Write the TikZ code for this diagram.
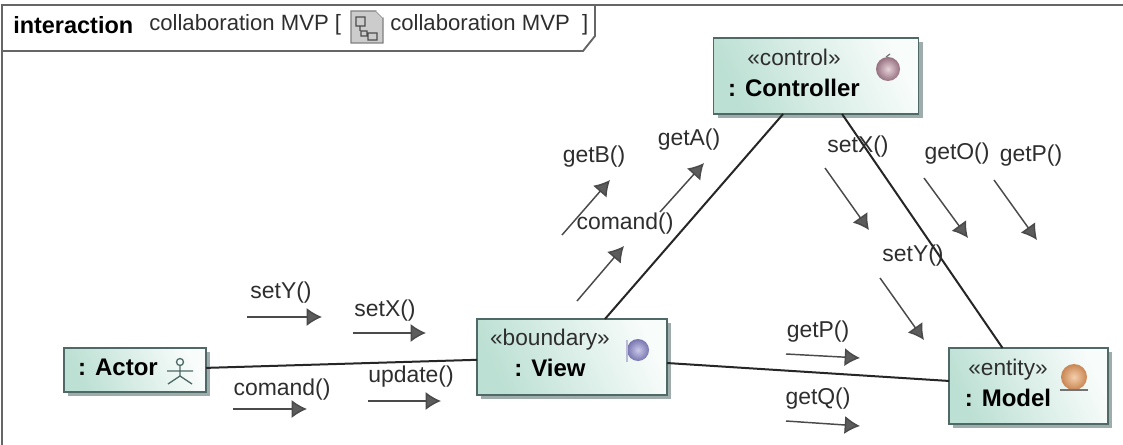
\documentclass[tikz,border=0pt]{standalone}
\usepackage{fontspec}
\setmainfont{Liberation Sans}
\usetikzlibrary{shadows,arrows.meta}
\definecolor{boxgreen}{HTML}{BCE0D3}
\definecolor{boxwhite}{HTML}{F8FCFB}
\definecolor{boxline}{HTML}{4F6A66}
\definecolor{inktext}{HTML}{2E2E2E}
\definecolor{msgline}{HTML}{4A4A4A}
\definecolor{controlin}{HTML}{E6D3DA}
\definecolor{controlout}{HTML}{96707F}
\definecolor{viewin}{HTML}{CBC9E8}
\definecolor{viewout}{HTML}{7775B0}
\definecolor{modelin}{HTML}{F4CFAE}
\definecolor{modelout}{HTML}{C98652}
\newcommand{\boxname}[1]{{\color{black}\bfseries\fontsize{18}{23}\selectfont #1}}
\newcommand{\boxkind}[1]{{\color{inktext}#1}}
\tikzset{
    classbox/.style={draw=boxline, line width=1.2pt, inner sep=0pt, outer sep=0pt, left color=boxgreen, right color=boxwhite, shading angle=115, drop shadow={shadow xshift=3.2pt, shadow yshift=-3.2pt, fill=boxline!55!white, opacity=1}},
    boxtext/.style={align=center, inner sep=0pt, text=black, font=\fontsize{17}{23}\selectfont},
    titletext/.style={inner sep=0pt, text=inktext, font=\fontsize{16.6}{19}\selectfont},
    msgtext/.style={inner sep=0pt, yshift=-1.2pt, text=inktext, font=\fontsize{17.2}{19}\selectfont},
    msg/.style={draw=msgline, line width=1.1pt, -{Latex[length=11.5pt,width=13.5pt,fill=msgline!90!white]}}, 
    link/.style={draw=black!85, line width=1.5pt},
    frameline/.style={draw=black!60, line width=1.4pt}
}
\begin{document}
\begin{tikzpicture}[x=0.75pt,y=-0.75pt]
    \useasboundingbox (0,0) rectangle (1123,445);
    \fill[white] (0,0) rectangle (1123,445);
    \draw[frameline] (2,445) -- (2,5) -- (1123,5);
    \draw[frameline] (2,51) -- (583,51) -- (595,36) -- (595,5);
    \node[anchor=west, inner sep=0pt, text=black, font=\bfseries\fontsize{17.6}{19}\selectfont] (frametitle) at (13,25) {interaction};
    \node[anchor=west, titletext] (framename) at (149,25) {collaboration MVP [};
    \node[anchor=west, titletext] (framediagram) at (390,25) {collaboration MVP\ \ ]};
    \draw[draw=black!50, fill=black!20, line width=0.9pt] (351,11) -- (376,11) -- (383,18) -- (383,43) -- (351,43) -- cycle;
    \fill[white] (376,11) -- (383,11) -- (383,18) -- cycle;
    \draw[draw=black!70, line width=1pt] (356,17) rectangle (365,26) (361,31) rectangle (367,36) (368,33) rectangle (377,40) (360,26) -- (360,31) (367,34) -- (368,35);

    \node[classbox, minimum width=153.75pt, minimum height=57pt] (controller) at (816,76) {};
    \node[classbox, minimum width=106.5pt, minimum height=33pt] (actor) at (135,370) {};
    \node[classbox, minimum width=142.5pt, minimum height=57pt] (view) at (572,357) {};
    \node[classbox, minimum width=119.25pt, minimum height=57pt] (model) at (1028.5,386) {};

    \draw[link] (actor) -- (view);
    \draw[link] (view) -- (model);
    \draw[link] (view) -- (controller);
    \draw[link] (controller) -- (model);

    \node[boxtext] (controllertext) at (794,73) {\boxkind{«control»}\\\boxname{: Controller}};
    \node[boxtext] (actortext) at (118,367) {\boxname{: Actor}};
    \node[boxtext] (viewtext) at (550,353) {\boxkind{«boundary»}\\\boxname{: View}};
    \node[boxtext] (modeltext) at (1008,383) {\boxkind{«entity»}\\\boxname{: Model}};

    \shade[inner color=controlin, outer color=controlout] (888,69) circle (12);
    \draw[draw=black!55, line width=0.9pt] (886,57) -- (890,54);
    \shade[inner color=viewin, outer color=viewout] (638,350) circle (11);
    \draw[draw=viewout!50!white, line width=1.4pt] (627,340) -- (627,362);
    \shade[inner color=modelin, outer color=modelout] (1074,377) circle (13);
    \draw[draw=black!55, line width=1pt] (1060,390) -- (1088,390);
    \draw[draw=boxline, line width=1pt] (180,362) circle (3.5) (180,365.5) -- (180,376) (167,371) -- (193,371) (168,384) -- (180,376) -- (192,384);

    \coordinate (setYa) at (247,317); \coordinate (setYb) at (322,317);
    \draw[msg] (setYa) -- (setYb);
    \node[msgtext] (setYtext) at (281,291) {setY()};
    \coordinate (setXa) at (353,333); \coordinate (setXb) at (426,333);
    \draw[msg] (setXa) -- (setXb);
    \node[msgtext] (setXtext) at (385,309) {setX()};
    \coordinate (comanda) at (233,409); \coordinate (comandb) at (307,409);
    \draw[msg] (comanda) -- (comandb);
    \node[msgtext] (comandtext) at (282,388) {comand()};
    \coordinate (updatea) at (368,401); \coordinate (updateb) at (441,401);
    \draw[msg] (updatea) -- (updateb);
    \node[msgtext] (updatetext) at (411,375) {update()};
    \coordinate (getPa) at (786,354); \coordinate (getPb) at (860,358);
    \draw[msg] (getPa) -- (getPb);
    \node[msgtext] (getPtext) at (818,330) {getP()};
    \coordinate (getQa) at (786,421); \coordinate (getQb) at (860,426);
    \draw[msg] (getQa) -- (getQb);
    \node[msgtext] (getQtext) at (818,397) {getQ()};
    \coordinate (upcomanda) at (577,301); \coordinate (upcomandb) at (624,246);
    \draw[msg] (upcomanda) -- (upcomandb);
    \node[msgtext] (upcomandtext) at (625,222) {comand()};
    \coordinate (getBa) at (562,235); \coordinate (getBb) at (610,180);
    \draw[msg] (getBa) -- (getBb);
    \node[msgtext] (getBtext) at (594,155) {getB()};
    \coordinate (getAa) at (660,212); \coordinate (getAb) at (704,163);
    \draw[msg] (getAa) -- (getAb);
    \node[msgtext] (getAtext) at (689,138) {getA()};
    \coordinate (rsetXa) at (825,168); \coordinate (rsetXb) at (869,230);
    \draw[msg] (rsetXa) -- (rsetXb);
    \node[msgtext] (rsetXtext) at (858,145) {setX()};
    \coordinate (getOa) at (924,178); \coordinate (getOb) at (968,238);
    \draw[msg] (getOa) -- (getOb);
    \node[msgtext] (getOtext) at (957,152) {getO()};
    \coordinate (rgetPa) at (994,180); \coordinate (rgetPb) at (1037,240);
    \draw[msg] (rgetPa) -- (rgetPb);
    \node[msgtext] (rgetPtext) at (1031,154) {getP()};
    \coordinate (rsetYa) at (880,278); \coordinate (rsetYb) at (924,340);
    \draw[msg] (rsetYa) -- (rsetYb);
    \node[msgtext] (rsetYtext) at (913,254) {setY()};
\end{tikzpicture}
\end{document}
